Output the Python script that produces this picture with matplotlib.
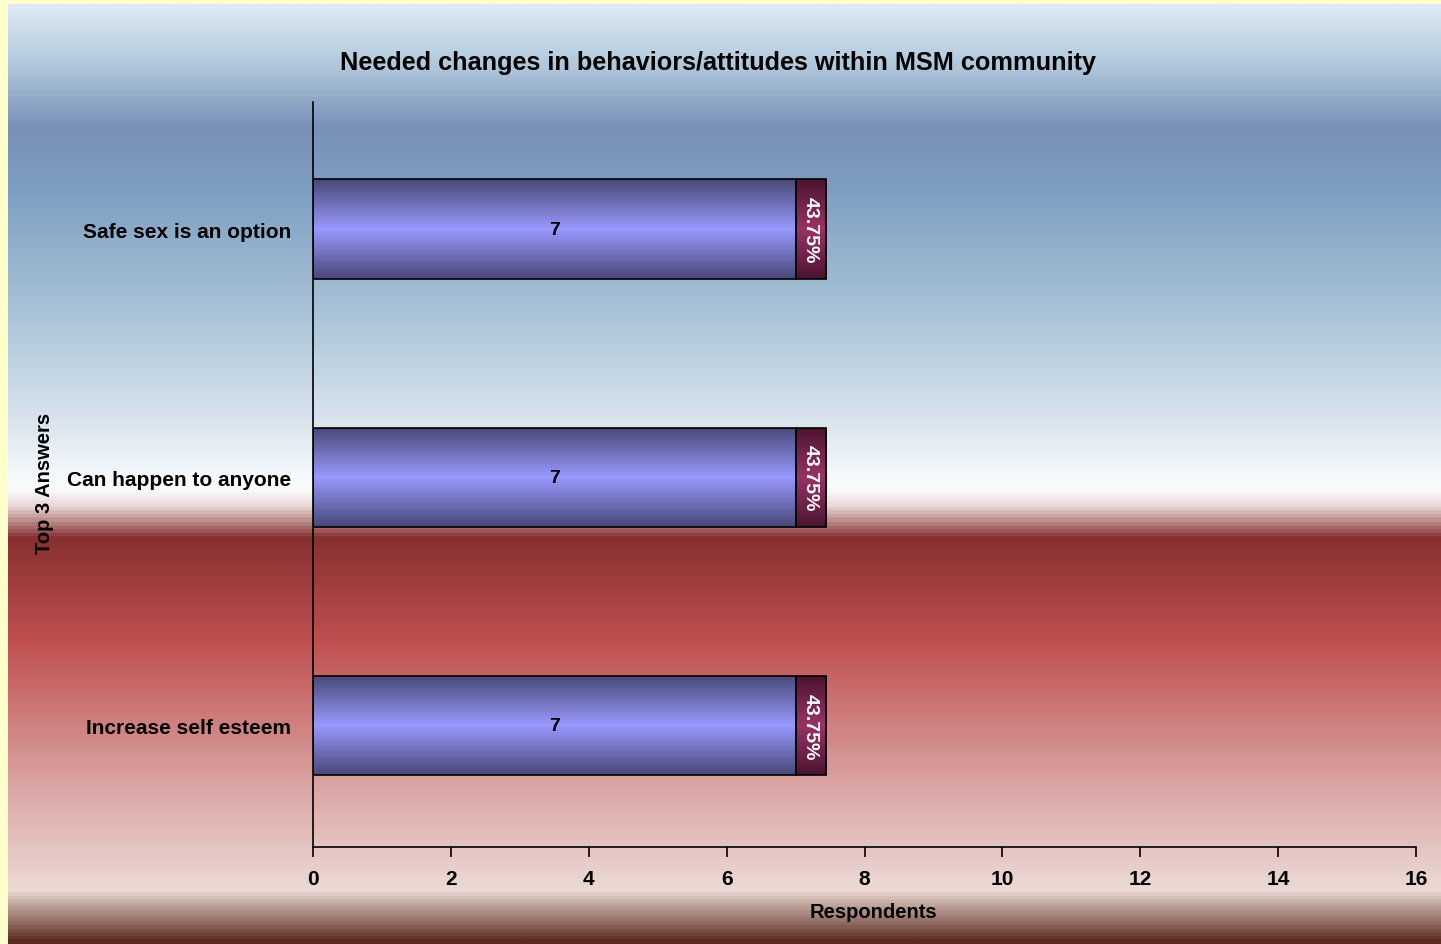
import numpy as np
import matplotlib
matplotlib.use("Agg")
import matplotlib.pyplot as plt
from matplotlib.colors import LinearSegmentedColormap

categories = ["Increase self esteem", "Can happen to anyone", "Safe sex is an option"]
counts = [7, 7, 7]
shares = [0.4375, 0.4375, 0.4375]
share_labels = ["43.75%", "43.75%", "43.75%"]
xticks = [0, 2, 4, 6, 8, 10, 12, 14, 16]

plt.rcParams['font.family'] = ['Liberation Sans', 'DejaVu Sans']
plt.rcParams['font.weight'] = 'bold'

W, H = 1441, 945
fig = plt.figure(figsize=(W / 100, H / 100), dpi=100)
fig.patch.set_facecolor('#ffffcc')

# background gradient
bg = fig.add_axes([8 / W, 0, 1 - 8 / W, 940 / H], zorder=0)
bg_stops = [(0.0, '#dde9f3'), (0.06, '#b3cadd'), (0.13, '#7890b8'), (0.2, '#7ea0c2'),
            (0.33, '#aac4d8'), (0.44, '#d8e3ed'), (0.515, '#fbfdfe'), (0.535, '#e8d6d6'),
            (0.568, '#863030'), (0.68, '#c05050'), (0.835, '#daa6a4'), (0.945, '#ecdad5'),
            (0.97, '#a88880'), (1.0, '#5c2a20')]
cmap_bg = LinearSegmentedColormap.from_list('bg', bg_stops)
grad = np.linspace(0, 1, 800).reshape(-1, 1)
bg.imshow(grad, aspect='auto', cmap=cmap_bg, extent=[0, 1, 1, 0])
bg.set_xlim(0, 1)
bg.set_ylim(1, 0)
bg.axis('off')

ax = fig.add_axes([313 / W, (H - 848) / H, (1416 - 313) / W, (848 - 103) / H], zorder=1)
ax.patch.set_alpha(0)

y = np.arange(len(categories))
bh = 0.4
bars1 = ax.barh(y, counts, height=bh, color='#9999ff', edgecolor='black', linewidth=1.2, zorder=2)
bars2 = ax.barh(y, shares, left=counts, height=bh, color='#8a2a60', edgecolor='black', linewidth=1.2, zorder=2)

cmap_blue = LinearSegmentedColormap.from_list('b', [(0, '#484878'), (0.5, '#9999ff'), (1, '#484878')])
cmap_red = LinearSegmentedColormap.from_list('r', [(0, '#4a1430'), (0.5, '#993366'), (1, '#4a1430')])
g = np.linspace(0, 1, 200).reshape(-1, 1)
for bars, cm in ((bars1, cmap_blue), (bars2, cmap_red)):
    for b in bars:
        x0, y0, w, h = b.get_x(), b.get_y(), b.get_width(), b.get_height()
        im = ax.imshow(g, cmap=cm, aspect='auto', extent=[x0, x0 + w, y0, y0 + h], zorder=1.5)
        im.set_clip_path(b)
        b.set_facecolor('none')

for i in range(len(categories)):
    ax.text(counts[i] / 2, y[i], str(counts[i]), ha='center', va='center',
            fontsize=14, fontweight='bold', color='black', zorder=3)
    ax.text(counts[i] + shares[i] / 2, y[i], share_labels[i], ha='center', va='center',
            rotation=270, fontsize=14, fontweight='bold', color='white', zorder=3)

ax.set_xlim(0, 16)
ax.set_ylim(-0.488, 2.512)
ax.set_xticks(xticks)
ax.set_xticklabels([str(t) for t in xticks], fontsize=15, fontweight='bold')
ax.set_yticks(y)
ax.set_yticklabels(categories, fontsize=15, fontweight='bold')
ax.tick_params(axis='x', direction='out', length=7, width=1.2, pad=9)
ax.tick_params(axis='y', length=0, pad=16)
for s in ('top', 'right'):
    ax.spines[s].set_visible(False)
for s in ('left', 'bottom'):
    ax.spines[s].set_linewidth(1.2)

ax.set_xlabel('Respondents', fontsize=14.5, fontweight='bold')
ax.xaxis.label.set_va('center')
ax.xaxis.set_label_coords((873 - 313) / (1416 - 313), -(913 - 848) / (848 - 103))
fig.text(45 / W, 1 - 483 / H, 'Top 3 Answers', rotation=90, ha='center', va='center',
         fontsize=14.5, fontweight='bold')
fig.text(718 / W, 1 - 63 / H, 'Needed changes in behaviors/attitudes within MSM community',
         ha='center', va='center', fontsize=18.2, fontweight='bold')

fig.savefig('out.png', dpi=100, facecolor=fig.get_facecolor())
